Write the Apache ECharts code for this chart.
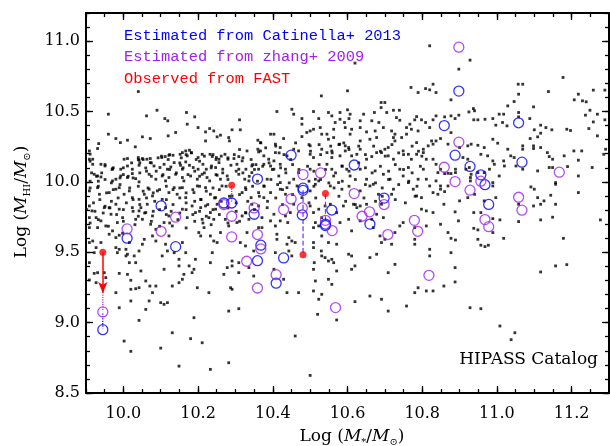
<!DOCTYPE html>
<html>
<head>
<meta charset="utf-8">
<script src="https://cdn.jsdelivr.net/npm/echarts@6/dist/echarts.min.js"></script>
<style>
  html, body { margin: 0; padding: 0; background: #fff; }
  #chart { width: 610px; height: 446px; }
</style>
</head>
<body>
<div id="chart"></div>
<script>
// HIPASS catalogue galaxies: [log M*, log M_HI]
const hipassPoints = [
  [10.040,10.642],[9.960,10.481],[10.062,10.469],[10.090,10.509],[10.111,10.450],[10.119,10.434],[10.169,10.493],[10.191,10.462],[10.171,10.410],[9.960,10.339],[9.980,10.308],[9.992,10.279],[10.011,10.296],[10.032,10.249],[10.051,10.320],[10.072,10.308],[10.120,10.327],[10.140,10.351],[10.200,10.386],[10.220,10.355],[10.231,10.379],[10.242,10.362],[10.220,10.291],[10.251,10.320],[10.260,10.332],[10.282,10.315],[10.291,10.370],[10.284,10.291],[10.311,10.441],[10.313,10.370],[9.934,10.272],[9.931,10.237],[9.909,10.220],[9.911,10.197],[10.360,10.296],
  [10.002,10.161],[10.011,10.166],[10.040,10.173],[10.042,10.154],[10.051,10.166],[10.063,10.161],[10.072,10.166],[10.072,10.137],[10.103,10.173],[10.112,10.180],[10.122,10.189],[10.133,10.189],[10.152,10.196],[10.158,10.208],[10.167,10.220],[10.177,10.225],[10.182,10.208],[10.171,10.185],[10.200,10.173],[10.211,10.196],[10.232,10.196],[10.238,10.180],[10.249,10.173],[10.256,10.161],[10.272,10.196],[10.280,10.161],[10.296,10.166],[10.309,10.180],[10.318,10.149],[10.331,10.220],[10.360,10.232],[10.362,10.213],[9.909,10.161],[9.918,10.161],
  [9.918,10.125],[9.940,10.125],[9.951,10.113],[9.971,10.094],[9.993,10.090],[10.011,10.113],[10.024,10.090],[10.042,10.118],[10.060,10.099],[10.082,10.113],[10.098,10.102],[10.109,10.125],[10.118,10.090],[10.127,10.106],[10.136,10.137],[10.153,10.118],[10.158,10.090],[10.167,10.142],[10.177,10.118],[10.187,10.102],[10.200,10.090],[10.213,10.125],[10.222,10.090],[10.236,10.113],[10.247,10.102],[10.256,10.137],[10.266,10.090],[10.288,10.118],[10.304,10.125],[10.309,10.090],[10.328,10.090],[10.344,10.113],[10.362,10.090],
  [9.922,10.054],[9.931,10.042],[9.940,10.035],[9.971,10.007],[9.980,10.019],[9.993,10.042],[10.011,10.031],[10.024,10.059],[10.033,10.023],[10.042,10.000],[10.069,10.054],[10.087,10.019],[10.104,10.042],[10.113,10.007],[10.122,10.031],[10.140,10.054],[10.158,10.031],[10.162,10.007],[10.180,10.042],[10.198,10.019],[10.211,10.054],[10.224,10.031],[10.231,10.007],[10.251,10.047],[10.260,10.019],[10.278,10.042],[10.309,10.054],[10.325,10.019],[10.336,10.007],[10.344,10.066],
  [9.909,9.936],[9.931,9.959],[9.936,9.912],[9.962,9.924],[9.980,9.948],[9.989,9.959],[10.002,9.912],[10.016,9.936],[10.024,9.888],[10.042,9.876],[10.056,9.912],[10.069,9.948],[10.078,9.900],[10.091,9.936],[10.104,9.876],[10.122,9.924],[10.136,9.959],[10.144,9.912],[10.158,9.959],[10.167,9.888],[10.189,9.924],[10.198,9.971],[10.207,9.876],[10.220,9.959],[10.233,9.912],[10.247,9.888],[10.264,9.971],[10.291,9.900],[10.318,9.924],[10.327,9.959],[10.342,9.888],[10.362,9.924],
  [9.911,10.147],[9.951,10.123],[9.970,10.088],[9.942,10.064],[9.973,10.100],[10.000,10.100],[10.022,10.135],[10.040,10.159],[10.044,10.135],[10.053,10.159],[10.075,10.135],[10.093,10.171],[10.102,10.183],[10.124,10.194],[10.120,10.159],[10.151,10.135],[10.155,10.171],[10.168,10.194],[10.182,10.206],[10.195,10.159],[10.204,10.147],[10.217,10.183],[10.240,10.194],[10.248,10.159],[10.262,10.183],[10.280,10.171],[10.297,10.194],[10.311,10.230],[10.320,10.171],[10.342,10.159],[10.355,10.123],
  [9.915,10.064],[9.928,10.040],[9.911,10.005],[9.933,10.005],[9.951,10.017],[9.968,9.993],[9.991,10.028],[10.000,10.052],[10.013,10.040],[10.026,10.028],[10.044,10.064],[10.062,10.076],[10.075,10.040],[10.088,10.076],[10.106,10.052],[10.124,10.088],[10.142,10.064],[10.160,10.100],[10.173,10.052],[10.191,10.076],[10.204,10.040],[10.217,10.064],[10.235,10.100],[10.248,10.052],[10.266,10.064],[10.280,10.017],[10.302,10.076],[10.320,10.064],[10.337,10.040],[10.351,10.088],
  [9.911,9.957],[9.933,9.969],[9.955,9.922],[9.973,9.945],[9.991,9.981],[10.017,9.957],[10.040,9.969],[10.053,9.934],[10.066,9.957],[10.080,9.922],[10.097,9.945],[10.115,9.969],[10.133,9.945],[10.151,9.957],[10.168,9.922],[10.186,9.945],[10.204,9.969],[10.222,9.934],[10.240,9.957],[10.257,9.945],[10.275,9.969],[10.311,9.910],[10.328,9.945],[10.346,9.969],
  [9.920,9.851],[9.937,9.874],[9.951,9.827],[9.968,9.862],[9.986,9.886],[10.008,9.851],[10.026,9.874],[10.044,9.839],[10.062,9.886],[10.084,9.862],[10.115,9.874],[10.133,9.839],[10.151,9.886],[10.168,9.851],[10.191,9.862],[10.208,9.874],[10.226,9.839],[10.244,9.886],[10.262,9.862],[10.284,9.898],[10.302,9.851],[10.333,9.862],
  [9.902,9.803],[9.924,9.791],[9.946,9.779],[9.964,9.815],[9.982,9.768],[10.000,9.803],[10.026,9.791],[10.040,9.756],[10.057,9.779],[10.080,9.791],[10.097,9.803],[10.115,9.768],[10.128,9.791],[10.151,9.779],[10.168,9.803],[10.186,9.768],[10.204,9.791],[10.222,9.756],[10.240,9.803],[10.257,9.768],[10.280,9.815],[10.302,9.791],[10.328,9.779],[10.351,9.803],
  [9.911,9.708],[9.933,9.732],[9.960,9.685],[10.000,9.720],[10.031,9.696],[10.075,9.720],[10.097,9.685],[10.124,9.708],[10.146,9.732],[10.168,9.673],[10.191,9.720],[10.213,9.708],[10.235,9.696],[10.280,9.708],[10.311,9.720],
  [10.820,10.967],[10.620,10.844],[10.600,10.647],[10.530,10.611],[10.770,10.671],[10.789,10.635],[10.809,10.663],[10.820,10.654],[10.829,10.694],[10.690,10.564],[10.700,10.564],[10.690,10.528],[10.723,10.509],[10.739,10.509],
  [10.411,10.500],[10.451,10.516],[10.456,10.481],[10.509,10.500],[10.549,10.493],[10.580,10.493],[10.600,10.512],[10.607,10.481],[10.643,10.481],[10.672,10.493],[10.705,10.493],
  [10.478,10.450],[10.523,10.450],[10.558,10.469],[10.567,10.422],[10.580,10.445],[10.592,10.422],[10.604,10.450],[10.634,10.434],[10.665,10.434],[10.684,10.422],[10.731,10.457],[10.740,10.438],[10.780,10.441],[10.785,10.464],[10.798,10.441],[10.809,10.422],[10.829,10.441],
  [10.478,10.410],[10.500,10.362],[10.509,10.374],[10.527,10.386],[10.531,10.339],[10.563,10.374],[10.594,10.386],[10.611,10.374],[10.634,10.386],[10.651,10.355],[10.674,10.362],[10.696,10.386],[10.718,10.362],[10.758,10.386],[10.767,10.410],[10.771,10.374],[10.789,10.362],[10.820,10.386],[10.758,10.339],[10.727,10.339],[10.723,10.315],
  [10.394,10.339],[10.403,10.339],[10.429,10.308],[10.478,10.322],[10.491,10.351],[10.545,10.339],[10.549,10.303],[10.563,10.315],[10.579,10.268],[10.594,10.256],[10.607,10.339],[10.634,10.291],[10.660,10.303],[10.678,10.315],[10.700,10.232],[10.709,10.244],[10.727,10.291],[10.745,10.315],[10.785,10.279],[10.803,10.232],[10.816,10.256],[10.825,10.291],
  [10.367,10.279],[10.407,10.268],[10.420,10.244],[10.407,10.208],[10.438,10.185],[10.456,10.232],[10.469,10.220],[10.500,10.256],[10.500,10.196],[10.509,10.173],[10.531,10.232],[10.545,10.208],[10.558,10.220],[10.558,10.173],[10.580,10.185],[10.594,10.220],[10.603,10.244],[10.611,10.185],[10.625,10.196],[10.634,10.232],[10.651,10.161],[10.665,10.180],[10.678,10.208],[10.691,10.208],[10.709,10.185],[10.723,10.161],[10.749,10.220],[10.763,10.196],[10.771,10.161],[10.785,10.196],[10.803,10.208],[10.811,10.161],[10.829,10.268],[10.829,10.161],[10.367,10.220],[10.376,10.185],[10.389,10.161],[10.403,10.149],
  [10.376,10.125],[10.394,10.113],[10.403,10.090],[10.420,10.125],[10.434,10.090],[10.416,10.042],[10.420,9.995],[10.420,9.948],[10.438,9.959],[10.456,10.019],[10.469,10.066],[10.465,9.971],[10.434,9.912],[10.394,9.924],[10.376,9.971],[10.385,10.019],[10.500,10.090],[10.514,10.019],[10.514,9.983],[10.523,10.007],[10.500,9.936],[10.545,10.125],[10.558,10.090],[10.563,10.042],[10.554,9.971],[10.576,9.995],[10.585,10.113],[10.598,10.090],[10.607,10.042],[10.585,9.948],[10.634,10.090],[10.651,10.019],[10.660,9.971],[10.669,9.983],[10.634,9.936],[10.674,10.078],[10.683,9.912],[10.696,10.054],[10.714,10.019],[10.723,9.948],[10.740,10.090],[10.749,10.042],[10.763,10.102],[10.763,9.995],[10.776,9.948],[10.785,9.900],[10.789,10.019],[10.803,10.090],[10.811,10.019],[10.820,9.971],[10.829,9.924],[10.798,9.888],[10.718,9.912],[10.478,9.888],[10.376,9.888],
  [10.368,10.277],[10.381,10.242],[10.408,10.254],[10.417,10.206],[10.430,10.194],[10.448,10.159],[10.461,10.277],[10.497,10.265],[10.501,10.218],[10.524,10.265],[10.528,10.194],[10.555,10.254],[10.559,10.206],[10.577,10.265],[10.590,10.277],[10.604,10.230],[10.630,10.254],[10.648,10.194],[10.670,10.254],[10.688,10.218],[10.701,10.183],[10.719,10.265],[10.737,10.206],[10.750,10.194],[10.773,10.254],[10.790,10.218],[10.799,10.183],
  [10.346,10.123],[10.373,10.111],[10.390,10.135],[10.399,10.088],[10.421,10.100],[10.435,10.064],[10.453,10.123],[10.470,10.088],[10.493,10.111],[10.510,10.076],[10.524,10.123],[10.541,10.088],[10.568,10.064],[10.586,10.111],[10.604,10.076],[10.630,10.135],[10.648,10.100],[10.666,10.064],[10.688,10.111],[10.710,10.076],[10.728,10.123],[10.750,10.088],[10.773,10.064],[10.795,10.111],
  [10.359,10.005],[10.377,9.969],[10.395,10.017],[10.413,9.981],[10.426,9.945],[10.444,9.993],[10.497,10.005],[10.510,9.969],[10.528,10.017],[10.550,9.993],[10.564,9.957],[10.586,10.005],[10.604,9.969],[10.621,10.017],[10.648,9.981],[10.675,9.993],[10.693,9.957],[10.710,10.017],[10.737,9.981],[10.764,10.005],[10.786,9.969],
  [10.364,9.898],[10.386,9.862],[10.408,9.886],[10.426,9.839],[10.453,9.910],[10.497,9.851],[10.515,9.886],[10.577,9.898],[10.595,9.862],[10.621,9.839],[10.644,9.886],[10.675,9.862],[10.693,9.898],[10.728,9.874],[10.755,9.851],[10.781,9.898],
  [10.928,10.865],[10.898,10.801],[11.177,10.742],[10.837,10.635],[10.877,10.583],[11.057,10.694],[11.069,10.694],[11.058,10.623],[11.138,10.642],[11.207,10.583],[11.218,10.623],[11.229,10.576],[11.239,10.569],[11.258,10.652],[11.289,10.652],[11.029,10.540],[11.046,10.571],[11.098,10.533],[11.249,10.509],[11.237,10.474],[11.269,10.481],
  [10.837,10.469],[10.860,10.462],[10.877,10.469],[10.898,10.474],[10.888,10.450],[10.925,10.497],[10.937,10.521],[10.940,10.505],[10.938,10.441],[10.949,10.441],[10.968,10.445],[10.989,10.450],[10.997,10.403],[11.006,10.481],[11.018,10.481],[11.027,10.398],[11.015,10.422],[11.058,10.493],[11.058,10.462],[11.088,10.450],[11.117,10.403],[11.131,10.386],[11.147,10.370],[11.100,10.370],[11.117,10.346],[11.109,10.320],[11.089,10.308],[11.187,10.374],[11.197,10.365],[11.258,10.426],[11.289,10.441],[11.269,10.327],[11.246,10.379],
  [10.849,10.308],[10.837,10.291],[10.877,10.350],[10.869,10.268],[10.900,10.244],[10.909,10.173],[10.922,10.256],[10.931,10.268],[10.922,10.161],[10.949,10.260],[10.966,10.244],[10.975,10.185],[10.989,10.149],[10.957,10.196],[10.989,10.303],[11.002,10.275],[11.018,10.149],[11.029,10.232],[11.037,10.185],[11.046,10.173],[11.069,10.232],[11.069,10.256],[11.098,10.256],[11.098,10.237],[11.117,10.244],[11.135,10.208],[11.140,10.180],[11.149,10.161],[11.180,10.185],[11.206,10.220],[11.227,10.220],[11.218,10.154],[11.286,10.196],[11.291,10.232],[11.255,10.102],
  [10.837,10.125],[10.849,10.090],[10.842,10.066],[10.860,10.059],[10.869,10.061],[10.877,10.059],[10.889,10.090],[10.889,10.066],[10.917,10.090],[10.926,10.102],[10.931,10.054],[10.929,10.031],[10.929,10.007],[10.949,10.066],[10.966,10.066],[10.980,10.090],[11.006,10.042],[10.993,10.125],[11.020,10.113],[11.051,10.113],[11.069,10.090],[11.109,10.078],[11.140,10.102],[11.149,10.102],[11.189,10.109],[11.157,9.983],[11.157,9.995],[11.218,10.042],[11.218,9.924],[11.144,9.905],[11.091,9.964],[11.100,9.948],[11.126,9.865],[11.109,9.888],[10.989,9.995],[10.989,9.971],[10.997,9.888],[10.966,9.865],[10.940,9.912],[10.922,9.888],[10.900,9.865],[10.869,9.971],[10.860,9.931],[10.849,9.971],[10.849,9.948],[10.837,10.007],[10.842,9.912],
  [9.909,9.829],[9.916,9.794],[9.909,9.746],[9.927,9.746],[9.940,9.723],[9.949,9.817],[9.962,9.817],[9.967,9.770],[9.980,9.841],[9.989,9.806],[9.998,9.746],[9.984,9.711],[9.953,9.687],[9.962,9.628],[9.971,9.652],[9.989,9.621],[9.980,9.604],[9.998,9.635],[10.016,9.569],[10.024,9.817],[10.042,9.794],[10.033,9.734],[10.051,9.734],[10.047,9.817],[10.064,9.841],[10.060,9.782],[10.078,9.758],[10.073,9.699],[10.087,9.663],[10.078,9.616],[10.087,9.580],[10.056,9.592],[10.051,9.557],[10.042,9.509],[10.029,9.474],[10.011,9.486],[10.007,9.521],[9.989,9.521],[9.980,9.533],[10.016,9.426],[10.033,9.426],
  [10.113,9.817],[10.122,9.758],[10.109,9.711],[10.131,9.687],[10.122,9.616],[10.113,9.557],[10.118,9.509],[10.104,9.474],[10.109,9.379],[10.136,9.497],[10.149,9.450],[10.149,9.403],[10.158,9.569],[10.167,9.497],[10.158,9.806],[10.171,9.746],[10.184,9.829],[10.193,9.782],[10.207,9.817],[10.211,9.734],[10.202,9.640],[10.207,9.616],[10.216,9.675],[10.229,9.746],[10.233,9.782],[10.220,9.829],[10.247,9.806],[10.251,9.841],[10.242,9.734],[10.233,9.616],[10.242,9.580],[10.238,9.497],[10.260,9.640],[10.251,9.569],[10.273,9.734],[10.282,9.687],[10.269,9.343],[10.278,9.391],[10.291,9.438],[10.291,9.403],[10.304,9.711],[10.318,9.758],[10.327,9.782],[10.336,9.734],[10.331,9.640],[10.313,9.569],[10.309,9.355],[10.327,9.545],[10.336,9.391],[10.349,9.509],[10.349,9.331],[10.362,9.675],[10.362,9.829],[10.344,9.841],
  [9.909,9.569],[9.918,9.580],[9.922,9.497],[9.927,9.533],[9.940,9.569],[9.931,9.675],[9.909,9.675],[9.909,9.426],[9.922,9.350],[9.931,9.355],[9.909,9.303],[9.927,9.284],[9.949,9.355],[9.953,9.320],[9.989,9.350],[9.984,9.497],[10.007,9.474],[10.011,9.343],[10.020,9.301],[10.020,9.237],[10.033,9.241],[10.042,9.248],[10.047,9.367],[10.060,9.296],[10.071,9.260],[10.060,9.094],[10.069,9.154],[10.078,9.213],[10.087,9.260],[10.100,9.142],[10.118,9.142],[10.109,9.130],[10.131,9.260],[10.149,9.284],[10.158,9.308],[10.162,9.343],[10.189,9.379],[10.193,9.450],[10.176,9.403],[10.184,9.355],[10.198,9.248],[10.233,9.426],[9.980,9.213],[9.989,9.106],[10.020,9.154],[10.042,9.016],[10.131,8.928],[10.149,8.691],[10.180,8.886],[10.189,9.035],[10.211,8.857],[10.229,9.213],[10.233,8.668],[10.282,9.082],[10.309,9.099],[10.282,8.715],[10.287,9.248],[10.291,9.237],[10.002,8.869],[10.020,8.796],[10.100,8.819],[10.309,9.426],
  [10.385,9.817],[10.394,9.723],[10.371,9.675],[10.371,9.746],[10.403,9.770],[10.407,9.687],[10.411,9.628],[10.411,9.592],[10.420,9.723],[10.434,9.758],[10.440,9.711],[10.447,9.782],[10.456,9.841],[10.443,9.604],[10.438,9.557],[10.451,9.580],[10.443,9.509],[10.451,9.474],[10.460,9.569],[10.407,9.497],[10.403,9.379],[10.429,9.308],[10.438,9.213],[10.469,9.213],[10.460,8.905],[10.500,8.625],[10.500,9.829],[10.509,9.782],[10.514,9.711],[10.509,9.675],[10.523,9.806],[10.531,9.746],[10.540,9.829],[10.554,9.841],[10.523,9.687],[10.531,9.616],[10.549,9.569],[10.571,9.782],[10.580,9.711],[10.571,9.557],[10.558,9.450],[10.563,9.426],[10.530,9.509],[10.531,9.474],[10.540,9.462],[10.549,9.438],[10.509,9.569],[10.509,9.533],[10.511,9.426],[10.509,9.379],[10.514,9.296],[10.509,9.225],[10.523,9.166],[10.531,9.201],[10.520,9.059],[10.549,9.308],[10.558,9.272],[10.571,9.367],[10.571,9.019],
  [10.589,9.829],[10.603,9.734],[10.616,9.841],[10.625,9.817],[10.634,9.829],[10.651,9.841],[10.665,9.734],[10.678,9.770],[10.611,9.652],[10.603,9.486],[10.611,9.474],[10.620,9.403],[10.611,9.379],[10.620,9.149],[10.660,9.462],[10.660,9.189],[10.678,9.486],[10.687,9.616],[10.691,9.569],[10.700,9.592],[10.718,9.557],[10.727,9.640],[10.740,9.687],[10.749,9.711],[10.691,9.166],[10.709,9.355],[10.709,9.082],[10.727,9.414],[10.758,9.118],[10.780,9.557],[10.780,9.592],[10.780,9.675],[10.811,9.687],[10.820,9.521],[10.820,9.474],[10.798,9.806],[10.811,9.794],[10.829,9.782],[10.780,9.213],[10.789,9.248],[10.811,9.225],[10.829,9.225],[10.691,9.841],[10.696,9.746],[10.669,9.675],[10.634,9.723],
  [10.858,9.841],[10.888,9.787],[10.897,9.723],[10.849,9.699],[10.869,9.640],[10.877,9.599],[10.889,9.587],[10.877,9.497],[10.888,9.391],[10.858,9.260],[10.888,9.289],[10.938,9.782],[10.957,9.782],[10.938,9.670],[10.949,9.659],[10.949,9.592],[10.957,9.550],[10.968,9.540],[10.977,9.550],[10.989,9.739],[10.989,9.640],[11.008,9.730],[11.018,9.599],[11.058,9.841],[11.058,9.718],[11.098,9.829],[11.117,9.841],[11.117,9.730],[11.149,9.749],[11.157,9.841],[11.178,9.599],[11.157,9.403],[11.187,9.412],[11.117,9.360],[11.277,9.730],[10.928,9.106],[10.957,9.099],[11.008,8.976],[11.048,8.928],[11.038,8.879]
];

// HI masses estimated from Catinella+ 2013 scaling relations
const catinellaPoints = [
  [9.945,8.95],[10.010,9.60],[10.101,9.83],[10.140,9.54],[10.269,9.85],[10.290,9.85],[10.350,9.77],[10.359,10.02],
  [10.359,9.44],[10.368,9.55],[10.409,9.28],[10.429,9.46],[10.449,10.19],[10.481,9.94],[10.481,9.955],[10.479,9.765],
  [10.541,9.70],[10.541,9.69],[10.558,9.80],[10.618,10.12],[10.660,9.70],[10.698,9.885],[10.859,10.40],[10.888,10.19],
  [10.898,10.645],[10.928,10.11],[10.957,10.05],[10.968,9.98],[10.978,9.84],[11.058,10.42],[11.067,10.14]
];

// HI masses estimated from zhang+ 2009 photometric estimator
const zhangPoints = [
  [9.945,9.076],[10.010,9.666],[10.101,9.649],[10.140,9.749],[10.269,9.839],[10.290,9.756],[10.290,9.609],[10.330,9.436],
  [10.350,9.815],[10.359,9.626],[10.359,9.246],[10.368,9.524],[10.409,9.341],[10.429,9.803],[10.449,9.879],[10.481,10.052],
  [10.479,9.815],[10.528,10.064],[10.541,9.727],[10.559,9.654],[10.568,9.107],[10.618,9.917],[10.639,9.756],[10.659,9.787],
  [10.698,9.839],[10.708,9.626],[10.779,9.727],[10.788,9.649],[10.818,9.336],[10.859,10.104],[10.888,10.002],[10.898,10.957],
  [10.898,10.282],[10.928,9.941],[10.957,10.005],[10.968,9.732],[10.978,9.682],[11.058,9.891],[11.067,9.799],[11.167,10.069]
];

// HI masses observed with FAST
const fastPoints = [[9.945,9.50],[10.290,9.976],[10.481,9.483],[10.541,9.917]];

// upper limit for the first FAST source: [x, from, to]
const fastUpperLimit = [9.945, 9.50, 9.21];

// connectors between FAST measurements and catalogue estimates: [x, y1, y2, colour, dash]
const connectors = [
  [9.945, 9.20, 9.09, '#a020f0', 'dotted'],
  [9.945, 9.065, 8.96, '#0000ff', 'dotted'],
  [10.290, 9.97, 9.86, '#7030f0', 'dotted'],
  [10.481, 9.94, 9.49, '#7030f0', 'dashed'],
  [10.541, 9.91, 9.73, '#a020f0', 'dashed']
];

const xMajorTicks = [10.0, 10.2, 10.4, 10.6, 10.8, 11.0, 11.2];
const yMajorTicks = [8.5, 9.0, 9.5, 10.0, 10.5, 11.0];
const xRange = [9.9, 11.3];
const yRange = [8.5, 11.2];

const xMinorTicks = [];
for (let i = 0; i <= 28; i++) xMinorTicks.push(+(9.9 + i * 0.05).toFixed(2));
const yMinorTicks = [];
for (let i = 0; i <= 27; i++) yMinorTicks.push(+(8.5 + i * 0.1).toFixed(1));

const BLUE = '#0000ff', PURPLE = '#a020f0', RED = '#ff0000';
const tickFont = 'DejaVu Serif';

function xAxisDef(position, ticks, len, withLabels, withLine) {
  return {
    type: 'value', position: position, min: xRange[0], max: xRange[1],
    axisLine: { show: withLine, onZero: false, lineStyle: { color: '#000', width: 2 } },
    axisTick: { show: true, inside: true, length: len, customValues: ticks, lineStyle: { color: '#000', width: 1.3 } },
    axisLabel: withLabels ? {
      show: true, customValues: ticks, margin: 13, color: '#000',
      fontFamily: tickFont, fontSize: 16, formatter: v => v.toFixed(1)
    } : { show: false },
    splitLine: { show: false }
  };
}
function yAxisDef(position, ticks, len, withLabels, withLine) {
  return {
    type: 'value', position: position, min: yRange[0], max: yRange[1],
    axisLine: { show: withLine, onZero: false, lineStyle: { color: '#000', width: 2 } },
    axisTick: { show: true, inside: true, length: len, customValues: ticks, lineStyle: { color: '#000', width: 1.3 } },
    axisLabel: withLabels ? {
      show: true, customValues: ticks, margin: 6, color: '#000',
      fontFamily: tickFont, fontSize: 16, formatter: v => v.toFixed(1)
    } : { show: false },
    splitLine: { show: false }
  };
}

const connectorSeries = connectors.map(c => ({
  type: 'line', xAxisIndex: 0, yAxisIndex: 0, symbol: 'none', silent: true, z: 3,
  data: [[c[0], c[1]], [c[0], c[2]]],
  lineStyle: { color: c[3], width: 1.2, type: c[4] }
}));

const titleRich = {
  n: { fontFamily: 'DejaVu Serif', fontSize: 17, lineHeight: 20, color: '#000' },
  i: { fontFamily: 'DejaVu Serif', fontSize: 17, fontStyle: 'italic', lineHeight: 20, color: '#000' },
  s: { fontFamily: 'DejaVu Serif', fontSize: 10, lineHeight: 11, padding: [11, 0, 0, 0], color: '#000' }
};

const chart = echarts.init(document.getElementById('chart'), null, { renderer: 'canvas' });
chart.setOption({
  animation: false,
  backgroundColor: '#fff',
  grid: { left: 86, top: 13, width: 523, height: 380, containLabel: false },
  xAxis: [
    xAxisDef('bottom', xMajorTicks, 7, true, true),
    xAxisDef('bottom', xMinorTicks, 4, false, false),
    xAxisDef('top', xMajorTicks, 7, false, true),
    xAxisDef('top', xMinorTicks, 4, false, false)
  ],
  yAxis: [
    yAxisDef('left', yMajorTicks, 7, true, true),
    yAxisDef('left', yMinorTicks, 4, false, false),
    yAxisDef('right', yMajorTicks, 7, false, true),
    yAxisDef('right', yMinorTicks, 4, false, false)
  ],
  series: [
    {
      name: 'HIPASS', type: 'scatter', xAxisIndex: 0, yAxisIndex: 0, z: 2,
      symbol: 'rect', symbolSize: 2.8, data: hipassPoints,
      itemStyle: { color: '#000' }, silent: true
    },
    ...connectorSeries,
    {
      name: 'Catinella', type: 'scatter', xAxisIndex: 0, yAxisIndex: 0, z: 4,
      symbol: 'circle', symbolSize: 10, data: catinellaPoints,
      itemStyle: { color: 'rgba(0,0,0,0)', borderColor: BLUE, borderWidth: 1.3 }
    },
    {
      name: 'zhang', type: 'scatter', xAxisIndex: 0, yAxisIndex: 0, z: 4,
      symbol: 'circle', symbolSize: 10, data: zhangPoints,
      itemStyle: { color: 'rgba(0,0,0,0)', borderColor: PURPLE, borderWidth: 1.3 }
    },
    {
      name: 'FAST', type: 'scatter', xAxisIndex: 0, yAxisIndex: 0, z: 5,
      symbol: 'circle', symbolSize: 7, data: fastPoints,
      itemStyle: { color: RED },
      markLine: {
        silent: true, symbol: ['none', 'arrow'], symbolSize: [7, 11],
        label: { show: false },
        lineStyle: { color: RED, width: 1.5, type: 'solid' },
        data: [[{ coord: [fastUpperLimit[0], fastUpperLimit[1]] }, { coord: [fastUpperLimit[0], fastUpperLimit[2]] }]]
      }
    }
  ],
  graphic: [
    { type: 'text', z: 10, style: { x: 124, y: 36, text: 'Estimated from Catinella+ 2013', font: '15.4px "Liberation Mono"', fill: BLUE, verticalAlign: 'middle' } },
    { type: 'text', z: 10, style: { x: 124, y: 57, text: 'Estimated from zhang+ 2009', font: '15.4px "Liberation Mono"', fill: PURPLE, verticalAlign: 'middle' } },
    { type: 'text', z: 10, style: { x: 124, y: 79, text: 'Observed from FAST', font: '15.4px "Liberation Mono"', fill: RED, verticalAlign: 'middle' } },
    { type: 'text', z: 10, style: { x: 598, y: 360, text: 'HIPASS Catalog', font: '17px "DejaVu Serif"', fill: '#000', align: 'right', verticalAlign: 'middle' } },
    {
      type: 'text', z: 10, x: 352, y: 437,
      style: {
        text: '{n|Log (}{i|M}{s|*}{n|/}{i|M}{s|⊙}{n|)}', rich: titleRich,
        align: 'center', verticalAlign: 'middle'
      }
    },
    {
      type: 'text', z: 10, x: 22, y: 202, rotation: Math.PI / 2,
      style: {
        text: '{n|Log (}{i|M}{s|HI}{n|/}{i|M}{s|⊙}{n|)}', rich: titleRich,
        align: 'center', verticalAlign: 'middle'
      }
    }
  ]
});
</script>
</body>
</html>
